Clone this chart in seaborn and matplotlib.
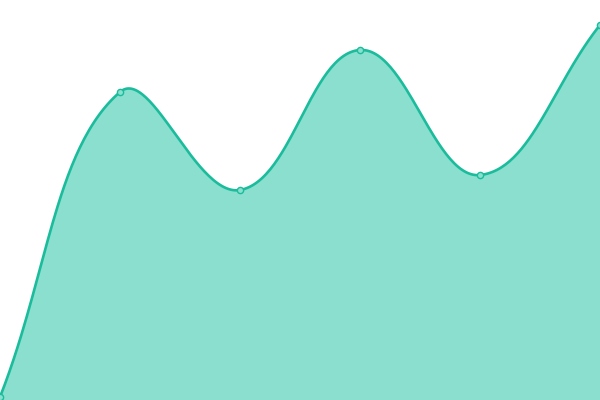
import numpy as np
import matplotlib
matplotlib.use("Agg")
import matplotlib.pyplot as plt
import seaborn as sns

sns.set_theme(style="white")

# data (y values in chart units, 0 at the bottom)
labels = ["A", "B", "C", "D", "E", "F"]
values = [3, 308, 210, 350, 225, 375]

line_color = "#1ABC9C"
fill_color = "#8ADFCF"

x = np.arange(len(values), dtype=float)
y = np.array(values, dtype=float)

# chart.js-like spline (tension 0.4), computed in pixel units
xs, ys = x * 120.0, y
t = 0.4
n = len(xs)
cp_prev = np.zeros((n, 2))
cp_next = np.zeros((n, 2))
for i in range(n):
    p0 = (xs[max(i - 1, 0)], ys[max(i - 1, 0)])
    p1 = (xs[i], ys[i])
    p2 = (xs[min(i + 1, n - 1)], ys[min(i + 1, n - 1)])
    d01 = np.hypot(p1[0] - p0[0], p1[1] - p0[1])
    d12 = np.hypot(p2[0] - p1[0], p2[1] - p1[1])
    tot = d01 + d12
    s01 = d01 / tot if tot else 0
    s12 = d12 / tot if tot else 0
    fa, fb = t * s01, t * s12
    cp_prev[i] = (p1[0] - fa * (p2[0] - p0[0]), p1[1] - fa * (p2[1] - p0[1]))
    cp_next[i] = (p1[0] + fb * (p2[0] - p0[0]), p1[1] + fb * (p2[1] - p0[1]))

curve_x, curve_y = [], []
tt = np.linspace(0, 1, 60)
for i in range(n - 1):
    P0 = np.array([xs[i], ys[i]])
    P1 = cp_next[i]
    P2 = cp_prev[i + 1]
    P3 = np.array([xs[i + 1], ys[i + 1]])
    seg = ((1 - tt) ** 3)[:, None] * P0 + (3 * (1 - tt) ** 2 * tt)[:, None] * P1 \
        + (3 * (1 - tt) * tt ** 2)[:, None] * P2 + (tt ** 3)[:, None] * P3
    curve_x.extend(seg[:, 0] / 120.0)
    curve_y.extend(seg[:, 1])
curve_x = np.array(curve_x)
curve_y = np.array(curve_y)

fig = plt.figure(figsize=(6, 4), dpi=100)
ax = fig.add_axes([0, 0, 1, 1])

ax.fill_between(curve_x, curve_y, 0, color=fill_color, linewidth=0)
ax.plot(curve_x, curve_y, color=line_color, linewidth=1.9, solid_capstyle="round")
sns.scatterplot(x=x, y=y, ax=ax, s=20, color=fill_color,
                edgecolor=line_color, linewidth=1, zorder=5, clip_on=True)

ax.set_xlim(0, len(values) - 1)
ax.set_ylim(0, 400)
ax.axis("off")

fig.savefig("out.png", dpi=100)
